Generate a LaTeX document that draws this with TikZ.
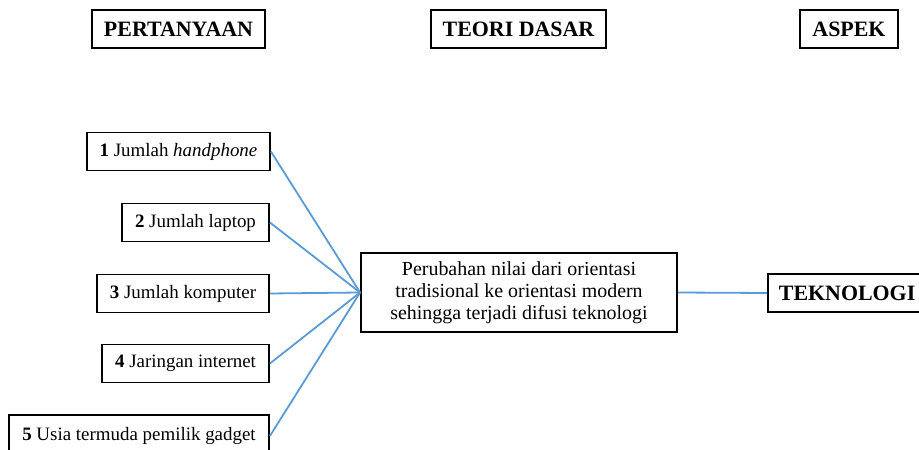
\documentclass[tikz,border=0pt]{standalone}
\usepackage{fontspec}
\setmainfont{Liberation Serif}
\definecolor{linkblue}{RGB}{91,155,213}
\begin{document}
\begin{tikzpicture}[x=1bp,y=-1bp,
  box/.style={draw=black,line width=1.8bp,rectangle,inner sep=0pt,align=center,text=black},
  head/.style={box,font=\fontsize{22}{24}\selectfont\bfseries,minimum height=38bp},
  item/.style={box,font=\fontsize{19}{22}\selectfont,minimum height=38bp},
  link/.style={draw=linkblue,line width=1.8bp}]
\clip (0,0) rectangle (919,450);
\useasboundingbox (0,0) rectangle (919,450);
\node[head,minimum width=173bp] (h1) at (178.5,29) {PERTANYAAN};
\node[head,minimum width=175bp] (h2) at (518.5,29) {TEORI DASAR};
\node[head,minimum width=98bp] (h3) at (849,29) {ASPEK};
\node[item,minimum width=183bp] (q1) at (178.5,151.5) {\textbf{1} Jumlah \textit{handphone}};
\node[item,minimum width=147bp] (q2) at (195.5,222.5) {\textbf{2} Jumlah laptop};
\node[item,minimum width=172bp] (q3) at (183,293.5) {\textbf{3} Jumlah komputer};
\node[item,minimum width=167bp] (q4) at (185.5,363.5) {\textbf{4} Jaringan internet};
\node[item,minimum width=260bp,minimum height=42bp] (q5) at (139,436) {\textbf{5} Usia termuda pemilik gadget};
\node[box,font=\fontsize{20}{22}\selectfont,minimum width=316bp,minimum height=79bp] (c) at (519,292.5)
  {Perubahan nilai dari orientasi\\tradisional ke orientasi modern\\sehingga terjadi difusi teknologi};
\node[box,font=\fontsize{22}{24}\selectfont\bfseries,inner xsep=11bp,minimum height=38bp,anchor=west] (t) at (767,293) {\makebox[160bp][l]{TEKNOLOGI}};
\foreach \q in {q1,q2,q3,q4,q5} \draw[link] (\q.east) -- (c.west);
\draw[link] (c.east) -- (t.west);
\end{tikzpicture}
\end{document}
